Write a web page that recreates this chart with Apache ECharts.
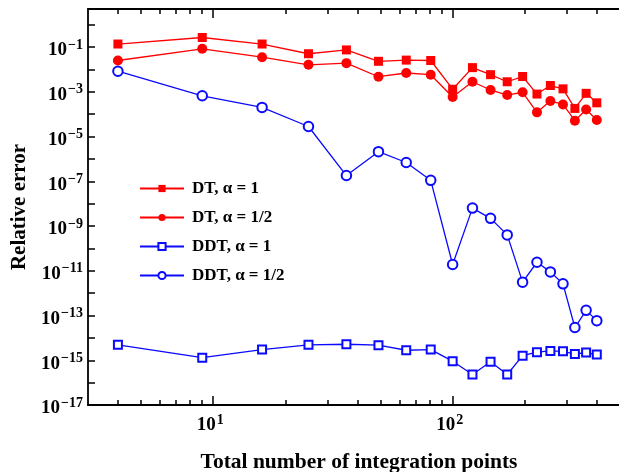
<!DOCTYPE html>
<html>
<head>
<meta charset="utf-8">
<script src="https://cdn.jsdelivr.net/npm/echarts@6/dist/echarts.min.js"></script>
<style>
  html, body { margin: 0; padding: 0; background: #fff; }
  #chart { width: 619px; height: 472px; }
</style>
</head>
<body>
<div id="chart"></div>
<script>
// Total number of integration points (perfect squares 2^2 .. 20^2)
const points = [4, 9, 16, 25, 36, 49, 64, 81, 100, 121, 144, 169, 196, 225, 256, 289, 324, 361, 400];

// Relative error for each scheme
const dtAlpha1 = [0.136, 0.266, 0.136, 0.050, 0.074, 0.023, 0.026, 0.025, 1.3e-3, 1.2e-2,
  5.8e-3, 2.8e-3, 4.8e-3, 7.9e-4, 1.9e-3, 1.35e-3, 1.8e-4, 8.5e-4, 3.2e-4];
const dtAlphaHalf = [2.5e-2, 8.3e-2, 3.5e-2, 1.6e-2, 1.9e-2, 4.7e-3, 6.9e-3, 5.8e-3, 5.8e-4, 2.8e-3,
  1.2e-3, 7.1e-4, 9.5e-4, 1.2e-4, 3.9e-4, 2.7e-4, 5.1e-5, 1.6e-4, 5.5e-5];
const ddtAlpha1 = [4.9e-15, 1.3e-15, 3.0e-15, 4.9e-15, 5.2e-15, 4.7e-15, 2.8e-15, 3.0e-15, 9.1e-16, 2.3e-16,
  8.5e-16, 2.3e-16, 1.6e-15, 2.3e-15, 2.6e-15, 2.5e-15, 1.9e-15, 2.2e-15, 1.8e-15];
const ddtAlphaHalf = [8.3e-3, 6.6e-4, 2.0e-4, 2.8e-5, 1.8e-7, 2.1e-6, 6.9e-7, 1.1e-7, 1.9e-11, 6.3e-9,
  2.2e-9, 4.0e-10, 3.1e-12, 2.4e-11, 8.9e-12, 2.6e-12, 2.9e-14, 1.7e-13, 5.9e-14];

const seriesNames = ['DT, \u03b1 = 1', 'DT, \u03b1 = 1/2', 'DDT, \u03b1 = 1', 'DDT, \u03b1 = 1/2'];

// Axis ranges and tick positions (in units of the data)
const xRange = [3, 500];
const yRange = [1e-17, 5];
const xMajorTicks = [10, 100];
const xMinorTicks = [4, 5, 6, 7, 8, 9, 20, 30, 40, 50, 60, 70, 80, 90, 200, 300, 400];

// Both axes are logarithmic: values are plotted by their base-10 exponent
const lg = v => Math.log10(v);
const pairs = ys => points.map((x, i) => [lg(x), lg(ys[i])]);

const FONT = '"Liberation Serif", "Times New Roman", serif';
const RED = '#ff0000';
const BLUE = '#0a0aff';

const supLabel = {
  b: { fontFamily: FONT, fontWeight: 'bold', fontSize: 19, color: '#000', lineHeight: 22, verticalAlign: 'bottom' },
  s: { fontFamily: FONT, fontWeight: 'bold', fontSize: 14, color: '#000', lineHeight: 22, verticalAlign: 'top', padding: [0, 0, 0, 1] }
};
// exponent text with a proper minus sign
const expText = e => (e < 0 ? '\u2212' + (-e) : String(e));

const axisLineStyle = { show: true, onZero: false, lineStyle: { color: '#000', width: 1.8 } };
const tickStyle = { color: '#000', width: 1.5 };

function xAxisDef(position, ticks, tickLen, withLine, withLabels) {
  return {
    type: 'value',
    position: position,
    min: lg(xRange[0]),
    max: lg(xRange[1]),
    axisLine: withLine ? axisLineStyle : { show: false, onZero: false },
    axisTick: { show: true, inside: true, length: tickLen, lineStyle: tickStyle, customValues: ticks.map(lg) },
    axisLabel: withLabels ? {
      show: true,
      margin: 8,
      padding: [0, 6, 0, 0],
      customValues: ticks.map(lg),
      formatter: v => '{b|10}{s|' + expText(Math.round(v)) + '}',
      rich: supLabel
    } : { show: false },
    splitLine: { show: false },
    name: withLabels ? 'Total number of integration points' : '',
    nameLocation: 'middle',
    nameGap: 46,
    nameTextStyle: { fontFamily: FONT, fontWeight: 'bold', fontSize: 21.5, color: '#000', padding: [0, 0, 0, 10] }
  };
}

function lineSeries(name, ys, color, symbol, size, filled) {
  return {
    name: name,
    type: 'line',
    data: pairs(ys),
    symbol: symbol,
    symbolSize: size,
    showAllSymbol: true,
    lineStyle: { color: color, width: 1.3 },
    itemStyle: filled
      ? { color: color, borderColor: color, borderWidth: 0 }
      : { color: color, borderColor: color, borderWidth: 1.3 },
    emphasis: { disabled: true },
    animation: false,
    z: filled ? 3 : 2
  };
}

const chart = echarts.init(document.getElementById('chart'), null, { renderer: 'canvas' });

chart.setOption({
  animation: false,
  backgroundColor: '#fff',
  grid: { left: 88, top: 9, width: 532, height: 396, containLabel: false, outerBoundsMode: 'none' },
  legend: {
    orient: 'vertical',
    left: 134,
    top: 175,
    itemWidth: 44,
    itemHeight: 9,
    itemGap: 12,
    selectedMode: false,
    data: seriesNames,
    textStyle: { fontFamily: FONT, fontWeight: 'bold', fontSize: 17, color: '#000', padding: [0, 0, 0, 3] }
  },
  xAxis: [
    xAxisDef('bottom', xMajorTicks, 9, true, true),
    xAxisDef('bottom', xMinorTicks, 5, false, false),
    xAxisDef('top', xMajorTicks, 9, true, false),
    xAxisDef('top', xMinorTicks, 5, false, false)
  ],
  yAxis: {
    type: 'value',
    min: lg(yRange[0]),
    max: lg(yRange[1]),
    interval: 1,
    axisLine: axisLineStyle,
    axisTick: { show: true, inside: true, length: 7, lineStyle: tickStyle },
    axisLabel: {
      margin: 5,
      padding: [4, 0, 0, 0],
      showMaxLabel: false,
      formatter: v => {
        const e = Math.round(v);
        if (Math.abs(v - e) > 1e-6 || Math.abs(e) % 2 !== 1) return '';
        return '{b|10}{s|' + expText(e) + '}';
      },
      rich: supLabel
    },
    splitLine: { show: false },
    name: 'Relative error',
    nameLocation: 'middle',
    nameGap: 54,
    nameTextStyle: { fontFamily: FONT, fontWeight: 'bold', fontSize: 21, color: '#000' }
  },
  series: [
    lineSeries(seriesNames[0], dtAlpha1, RED, 'rect', 9, true),
    lineSeries(seriesNames[1], dtAlphaHalf, RED, 'circle', 10, true),
    lineSeries(seriesNames[2], ddtAlpha1, BLUE, 'emptyRect', 8, false),
    lineSeries(seriesNames[3], ddtAlphaHalf, BLUE, 'emptyCircle', 9.5, false)
  ]
});
</script>
</body>
</html>
